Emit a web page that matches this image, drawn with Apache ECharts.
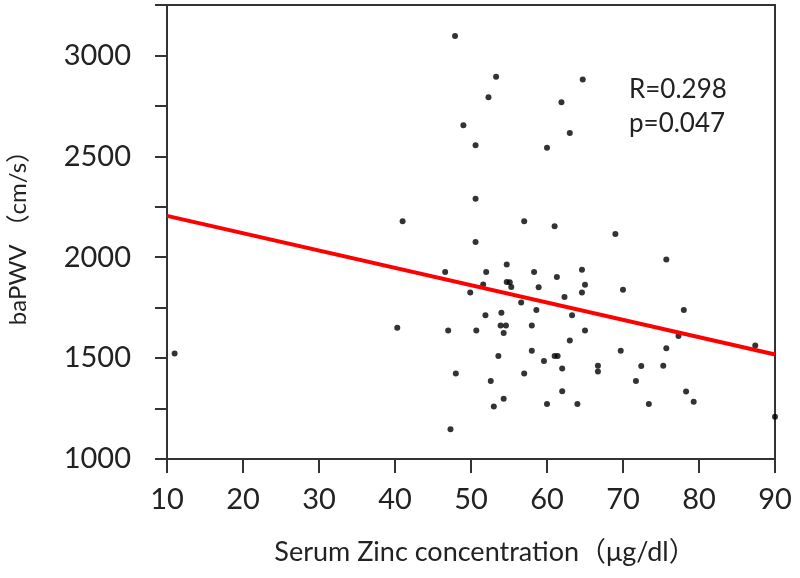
<!DOCTYPE html>
<html>
<head>
<meta charset="utf-8">
<script src="https://cdn.jsdelivr.net/npm/echarts@6/dist/echarts.min.js"></script>
<style>html,body{margin:0;padding:0;background:#fff;}#chart{width:800px;height:578px;}</style>
</head>
<body>
<div id="chart"></div>
<script>
// Serum zinc (x, μg/dl) and baPWV (y, cm/s)
const zinc = [11.0,40.3,41.0,46.6,47.0,47.3,47.9,48.0,49.0,49.9,50.6,50.6,50.6,50.7,51.6,52.0,51.9,52.3,52.6,53.0,53.3,53.6,54.0,53.9,54.6,54.3,54.3,54.7,54.7,55.1,55.3,56.6,57.0,57.0,58.0,58.0,58.3,58.6,58.9,59.6,60.0,60.0,61.0,61.0,61.4,61.3,61.9,62.0,62.0,62.3,63.0,63.0,63.3,64.0,64.7,64.6,64.6,65.0,65.0,66.7,66.7,69.0,69.7,70.0,71.7,72.4,73.4,75.3,75.7,75.7,77.3,78.0,78.3,79.3,87.4,90.0];
const bapwv = [1523,1650,2178,1927,1637,1147,3096,1424,2654,1825,2555,2290,2076,1637,1865,1927,1713,2793,1386,1260,2894,1511,1725,1662,1662,1624,1298,1964,1877,1876,1853,1775,2178,1424,1662,1537,1927,1738,1851,1486,2542,1272,2153,1511,1511,1902,2768,1448,1336,1803,2616,1587,1712,1272,2881,1938,1825,1864,1637,1462,1434,2115,1537,1839,1386,1461,1272,1462,1989,1549,1610,1738,1335,1284,1562,1210];
// Regression line end points
const fitX = [10, 90];
const fitY = [2205, 1518];
const statR = 'R=0.298';
const statP = 'p=0.047';
const xTitle = 'Serum Zinc concentration（μg/dl）';
const yTitle = 'baPWV （cm/s）';

const font = 'Lato, "Noto Sans CJK SC", sans-serif';
const chart = echarts.init(document.getElementById('chart'), null, {renderer: 'canvas'});
chart.setOption({
  animation: false,
  backgroundColor: '#fff',
  grid: {left: 167, right: 25, top: 5, bottom: 119, containLabel: false, outerBoundsMode: 'none',
    show: true, borderColor: '#333', borderWidth: 2},
  xAxis: {
    type: 'value', min: 10, max: 90, interval: 10,
    name: xTitle, nameLocation: 'middle', nameGap: 80,
    nameTextStyle: {fontFamily: font, fontSize: 27, color: '#222', padding: [0, 0, 0, 28]},
    axisLine: {show: true, onZero: false, lineStyle: {color: '#333', width: 2}},
    axisTick: {show: true, inside: false, length: 14, lineStyle: {color: '#333', width: 2}},
    axisLabel: {fontFamily: font, fontSize: 29, color: '#222', margin: 26},
    splitLine: {show: false}
  },
  yAxis: {
    type: 'value', min: 1000, max: 3250, interval: 250,
    name: yTitle, nameLocation: 'middle', nameGap: 137, nameRotate: 90,
    nameTextStyle: {fontFamily: font, fontSize: 24, color: '#222'},
    axisLine: {show: true, onZero: false, lineStyle: {color: '#333', width: 2}},
    axisTick: {show: true, inside: false, length: 12, lineStyle: {color: '#333', width: 2}},
    axisLabel: {fontFamily: font, fontSize: 29, color: '#222', margin: 36,
      formatter: v => (v % 500 === 0 && v <= 3000) ? String(v) : ''},
    splitLine: {show: false}
  },
  graphic: [
    {type: 'text', left: 629, top: 77, style: {text: statR, font: '26px ' + font, fill: '#222'}},
    {type: 'text', left: 629, top: 111, style: {text: statP, font: '26px ' + font, fill: '#222'}}
  ],
  series: [
    {
      type: 'scatter', symbol: 'circle', symbolSize: 6,
      itemStyle: {color: '#000'},
      data: zinc.map((x, i) => [x, bapwv[i]]),
      z: 3
    },
    {
      type: 'line', symbol: 'none', silent: true,
      lineStyle: {color: '#ff0000', width: 4},
      data: fitX.map((x, i) => [x, fitY[i]]),
      z: 4
    }
  ]
});
</script>
</body>
</html>
